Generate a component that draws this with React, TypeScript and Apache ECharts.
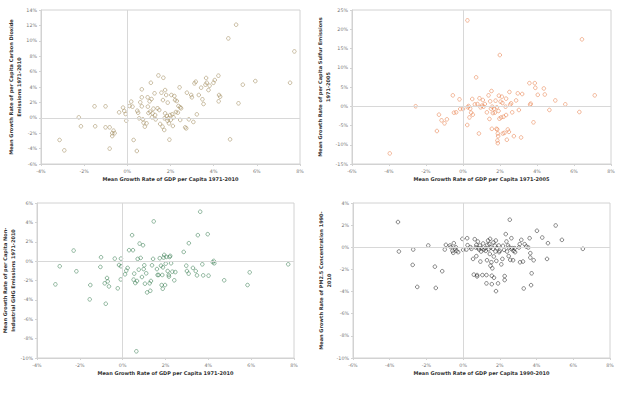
import React, { useEffect, useRef } from "react";
import * as echarts from "echarts";

// Panel 1: CO2 emissions vs GDP (1971-2010)
const co2X = [-3.14,-2.92,-2.25,-2.15,-1.52,-1.49,-1.01,-1.01,-0.82,-0.82,-0.70,-0.64,-0.59,-0.70,-0.38,-0.20,-0.14,-0.08,-0.05,0.10,0.18,0.24,0.29,0.44,0.46,0.50,0.55,0.60,0.67,0.67,0.67,0.72,0.75,0.81,0.89,0.94,0.95,0.98,1.03,1.06,1.09,1.12,1.14,1.17,1.21,1.26,1.29,1.31,1.40,1.44,1.48,1.52,1.58,1.63,1.65,1.67,1.71,1.72,1.75,1.75,1.80,1.83,1.86,1.87,1.90,1.93,1.95,1.98,2.01,2.04,2.08,2.11,2.14,2.18,2.21,2.25,2.29,2.34,2.37,2.42,2.45,2.45,2.49,2.68,2.73,2.76,2.85,2.96,2.99,3.06,3.11,3.17,3.22,3.31,3.42,3.48,3.53,3.62,3.65,3.68,3.76,3.81,3.99,4.05,4.22,4.23,4.25,4.30,4.68,4.76,5.04,5.15,5.35,5.93,7.54,7.74];
const co2Y = [-2.88,-4.23,0.06,-1.10,1.49,-1.10,1.49,-1.24,-1.24,-4.00,-2.37,-1.67,-2.00,-2.00,0.71,1.32,0.88,0.49,-0.37,1.53,2.10,1.45,-2.88,-4.31,0.92,0.66,-0.07,2.01,3.70,2.66,1.49,-0.20,-0.63,-1.15,-0.72,2.66,1.45,0.62,2.14,0.80,4.55,2.44,0.06,0.58,1.19,3.18,0.36,-0.20,1.23,5.50,1.01,-0.80,3.26,-1.15,2.30,5.20,-1.58,-0.07,3.60,0.58,2.96,0.23,-0.37,1.97,-0.07,-0.72,-2.84,0.36,-0.28,2.96,0.45,-1.06,0.06,2.83,2.30,0.75,2.18,0.67,1.53,3.95,1.36,-0.28,1.23,-1.24,-1.37,3.26,-0.20,2.96,2.66,-0.54,4.47,4.69,0.45,2.96,3.91,2.40,1.79,4.30,5.17,4.55,3.60,4.17,4.55,4.90,5.47,2.14,2.96,2.74,10.31,-2.80,12.09,1.88,4.30,4.77,4.55,8.62];

// Panel 2: Sulfur emissions vs GDP (1971-2005)
const so2X = [-3.96,-2.56,-1.41,-1.30,-1.16,-1.00,-0.87,-0.55,-0.49,-0.37,-0.19,-0.15,0.00,0.23,0.24,0.26,0.30,0.35,0.39,0.44,0.50,0.53,0.64,0.71,0.78,0.86,0.89,0.95,1.02,1.07,1.11,1.18,1.29,1.38,1.43,1.47,1.51,1.54,1.56,1.58,1.61,1.69,1.72,1.76,1.81,1.83,1.85,1.86,1.88,1.88,1.90,1.92,1.94,1.97,1.99,2.03,2.06,2.10,2.13,2.15,2.19,2.24,2.30,2.33,2.33,2.37,2.42,2.48,2.51,2.55,2.60,2.66,2.75,2.87,2.96,3.02,3.14,3.20,3.59,3.63,3.66,3.81,3.88,3.91,4.04,4.37,4.42,4.67,4.99,5.53,6.29,6.43,7.12];
const so2Y = [-12.25,0.00,-6.43,-2.19,-3.66,-4.44,-3.40,2.83,-1.67,-1.58,1.79,-0.71,-0.71,-4.87,22.30,-0.28,0.06,-2.90,-0.63,-1.67,1.88,-2.19,0.50,7.51,0.58,-7.08,2.06,-0.28,0.15,1.62,-0.11,0.58,-1.58,2.83,-3.30,1.28,-0.63,3.96,-5.86,-0.11,-1.76,-0.63,-1.67,1.45,-5.86,-0.28,-6.04,-8.90,-9.59,-7.08,-7.77,-1.23,2.75,-3.23,13.30,1.19,-2.90,2.49,0.85,-7.08,-2.73,-6.91,-0.11,1.97,-2.28,-8.70,-6.04,-6.65,3.70,0.41,0.76,-1.58,-7.77,1.51,3.35,-0.97,-8.11,3.18,6.00,0.41,0.67,-4.18,6.00,4.79,2.97,4.62,3.05,-0.97,1.51,0.50,-1.50,17.38,2.83];

// Panel 3: Non-industrial GHG emissions vs GDP (1971-2010)
const ghgX = [-3.14,-2.94,-2.29,-2.16,-1.51,-1.54,-1.01,-1.04,-0.84,-0.79,-0.73,-0.70,-0.64,-0.37,-0.23,-0.17,-0.08,-0.08,-0.09,0.11,0.17,0.23,0.30,0.44,0.48,0.51,0.54,0.59,0.67,0.70,0.75,0.79,0.84,0.90,0.95,0.98,1.01,1.04,1.10,1.14,1.26,1.29,1.32,1.37,1.42,1.45,1.60,1.63,1.68,1.73,1.79,1.82,1.85,1.87,1.88,1.91,1.94,1.98,2.01,2.04,2.10,2.15,2.16,2.19,2.22,2.26,2.32,2.41,2.46,2.85,2.97,3.00,3.08,3.09,3.28,3.41,3.47,3.51,3.62,3.72,3.76,3.97,4.01,4.21,4.25,4.28,4.74,5.83,5.93,7.73,0.64];
const ghgY = [-2.40,-0.53,1.09,-1.05,-2.47,-3.95,0.40,-0.60,-2.29,-4.40,-1.74,-2.09,-2.61,0.26,-2.81,-0.40,-0.53,0.26,-1.89,-1.36,-0.98,-0.70,1.13,2.68,1.13,-1.91,-1.29,-2.26,-2.05,0.23,-0.88,1.81,0.33,-1.64,1.64,-0.82,-0.43,-2.33,-1.26,-3.23,-2.29,-3.06,-2.05,-0.43,0.23,4.10,-0.82,-1.43,-1.43,0.30,-0.47,-2.47,-1.43,-2.85,-0.64,0.37,0.64,-2.47,-0.26,0.43,-1.02,-1.43,-1.60,0.43,0.54,-0.22,-1.09,-1.98,-1.13,0.95,-0.47,-1.02,-1.29,1.85,-0.70,-1.02,-1.47,2.68,5.10,-0.33,-1.47,2.78,-1.50,-0.12,0.02,-0.22,-1.98,-2.47,-1.16,-0.33,-9.31];

// Panel 4: PM2.5 concentration vs GDP (1990-2010)
const pmX = [-3.55,-3.50,-2.72,-2.75,-2.50,-1.90,-1.54,-1.49,-1.14,-1.00,-0.94,-0.72,-0.67,-0.58,-0.54,-0.51,-0.43,-0.40,-0.36,-0.27,-0.04,0.00,0.18,0.22,0.24,0.40,0.45,0.54,0.58,0.63,0.69,0.72,0.72,0.76,0.76,0.80,0.83,0.87,0.91,0.94,0.98,1.01,1.05,1.09,1.12,1.20,1.23,1.27,1.27,1.30,1.32,1.36,1.39,1.43,1.45,1.47,1.49,1.50,1.54,1.56,1.56,1.59,1.63,1.65,1.67,1.68,1.72,1.76,1.78,1.79,1.81,1.85,1.90,1.94,1.96,1.99,2.08,2.14,2.17,2.23,2.26,2.26,2.32,2.36,2.39,2.45,2.48,2.50,2.54,2.57,2.63,2.64,2.68,2.72,2.75,2.81,2.83,3.04,3.08,3.10,3.17,3.26,3.30,3.35,3.44,3.55,3.62,3.66,3.66,3.70,3.73,3.84,4.02,4.31,4.57,4.62,5.04,5.38,6.52];
const pmY = [2.28,-0.38,-0.20,-1.59,-3.58,0.16,-1.75,-3.67,-2.16,-0.20,0.22,0.16,0.01,-0.32,-0.50,0.37,-0.14,0.01,-0.32,-0.44,0.76,-0.23,-0.20,0.82,0.19,0.01,-0.14,-1.05,-2.47,0.73,-0.02,0.22,-0.80,-2.51,-2.63,0.52,-0.08,-0.20,0.16,-1.29,-0.38,-0.08,-2.51,0.34,-0.20,-0.08,-0.32,-3.26,-2.51,-1.17,0.22,0.61,-0.17,0.28,-0.60,0.76,-1.66,-0.02,-1.35,-3.33,-2.57,-1.90,-0.14,0.43,-0.83,-2.75,0.16,-0.38,0.61,-3.96,-1.23,-0.08,-3.26,0.16,-0.44,-0.32,-1.54,-1.05,0.13,-0.23,-2.60,-2.96,1.19,0.52,-0.38,0.16,-0.80,-0.02,2.49,-1.14,0.82,-0.17,-0.08,-1.17,-0.32,-0.08,-0.44,-0.02,0.28,-1.35,0.67,-1.29,-3.72,0.28,0.07,-0.02,0.82,-0.53,-0.93,-3.42,-2.35,-1.17,1.49,0.88,-1.05,0.37,1.97,0.67,-0.14];

const xTitles = [
  "Mean Growth Rate of GDP per Capita 1971-2010",
  "Mean Growth Rate of GDP per Capita 1971-2005",
  "Mean Growth Rate of GDP per Capita 1971-2010",
  "Mean Growth Rate of GDP per Capita 1990-2010",
];
const yTitles = [
  "Mean Growth Rate of per Capita Carbon Dioxide\nEmissions 1971-2010",
  "Mean Growth Rate of per Capita Sulfur Emissions\n1971-2005",
  "Mean Growth Rate of per Capita Non-\nIndustrial GHG Emissions 1971-2010",
  "Mean Growth Rate of PM2.5 Concentration 1990-\n2010",
];
const xRanges = [[-4, 8, 2], [-6, 8, 2], [-4, 8, 2], [-6, 8, 2]];
const yRanges = [[-6, 14, 2], [-15, 25, 5], [-10, 6, 2], [-10, 4, 2]];
const colors = ["#a08a5c", "#e8804c", "#3a7e52", "#2a2a2a"];
const xs = [co2X, so2X, ghgX, pmX];
const ys = [co2Y, so2Y, ghgY, pmY];

const grids = [
  { left: 41, top: 10, width: 259, height: 154 },
  { left: 352, top: 10, width: 259, height: 154 },
  { left: 37, top: 203, width: 257, height: 155 },
  { left: 353, top: 203, width: 257, height: 155 },
];
const yGaps = [15, 15.5, 16, 17];

export default function App() {
  const ref = useRef<HTMLDivElement>(null);
  useEffect(() => {
    if (!ref.current) return;
    const chart = echarts.init(ref.current, undefined, { renderer: "svg" });
    const fmt = (v: number) => `${v}%`;
    const labelStyle = { fontSize: 4.8, color: "#777", fontFamily: "DejaVu Sans" };
    const nameStyle = { fontSize: 5, fontWeight: "bold" as const, color: "#333", fontFamily: "DejaVu Sans", lineHeight: 7.5 };
    chart.setOption({
      animation: false,
      grid: grids.map((g) => ({ ...g, show: true, borderColor: "#d2d2d2", borderWidth: 1, backgroundColor: "transparent" })),
      xAxis: xRanges.map((r, i) => ({
        type: "value",
        gridIndex: i,
        min: r[0],
        max: r[1],
        interval: r[2],
        name: xTitles[i],
        nameLocation: "middle",
        nameGap: 11,
        nameTextStyle: nameStyle,
        axisLine: { show: true, onZero: false, lineStyle: { color: "#d2d2d2" } },
        axisTick: { show: true, length: 2, lineStyle: { color: "#d2d2d2" } },
        axisLabel: { ...labelStyle, formatter: fmt, margin: 5 },
        splitLine: { show: false },
      })),
      yAxis: yRanges.map((r, i) => ({
        type: "value",
        gridIndex: i,
        min: r[0],
        max: r[1],
        interval: r[2],
        name: yTitles[i],
        nameLocation: "middle",
        nameGap: yGaps[i],
        nameRotate: 90,
        nameTextStyle: nameStyle,
        axisLine: { show: true, onZero: false, lineStyle: { color: "#d2d2d2" } },
        axisTick: { show: true, length: 2, lineStyle: { color: "#d2d2d2" } },
        axisLabel: { ...labelStyle, formatter: fmt, margin: 4 },
        splitLine: { show: false },
      })),
      series: xs.map((xArr, i) => ({
        type: "scatter",
        xAxisIndex: i,
        yAxisIndex: i,
        symbol: "circle",
        symbolSize: 3.6,
        itemStyle: { color: "rgba(255,255,255,0)", borderColor: colors[i], borderWidth: 0.7 },
        data: xArr.map((x, j) => [x, ys[i][j]]),
        markLine: {
          silent: true,
          symbol: "none",
          label: { show: false },
          lineStyle: { color: "#d8d8d8", type: "solid", width: 1 },
          data: [{ xAxis: 0 }, { yAxis: 0 }],
        },
      })),
    });
    return () => chart.dispose();
  }, []);
  return (
    <div
      ref={ref}
      style={{ position: "fixed", left: 0, top: 0, width: 640, height: 395, background: "#fff" }}
    />
  );
}
